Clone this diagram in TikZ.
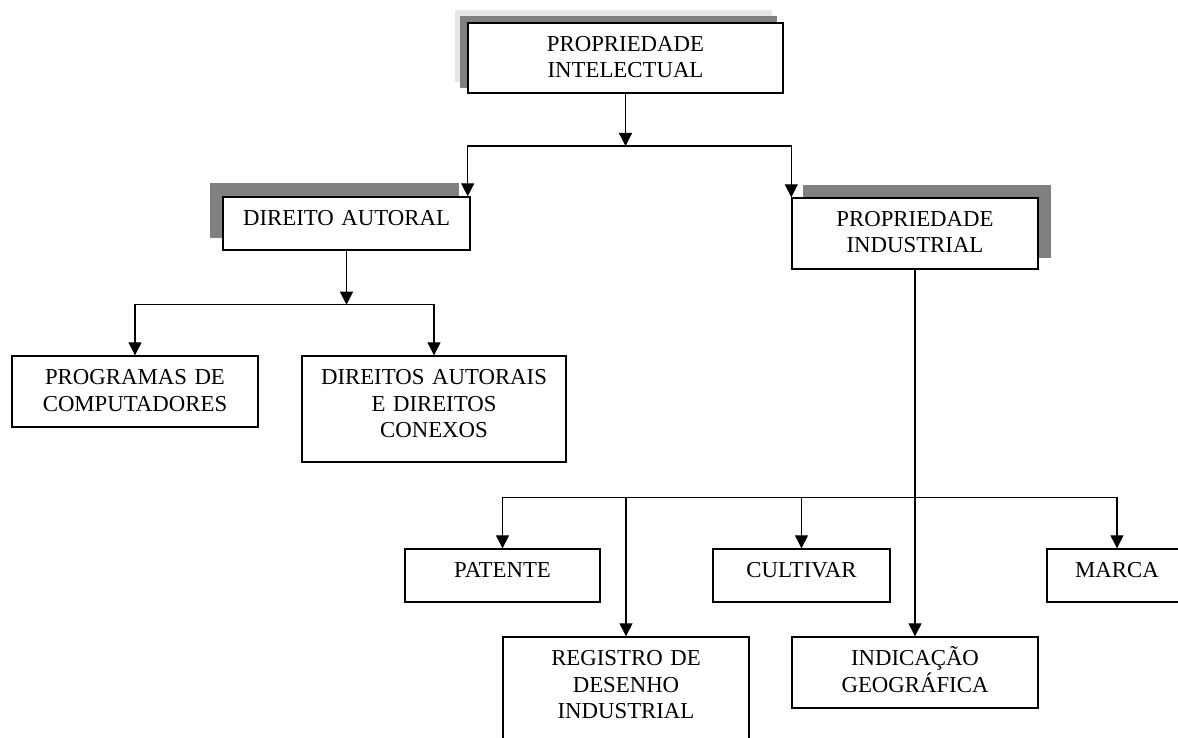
\documentclass[tikz,border=0pt]{standalone}
\usepackage{fontspec}
\setmainfont{Liberation Serif}
\usetikzlibrary{arrows.meta,backgrounds}

\begin{document}
\begin{tikzpicture}[
    x=0.5pt, y=-0.5pt,
    font=\fontsize{11.4pt}{13.25pt}\selectfont,
    box/.style 2 args={
        draw,
        fill=white,
        line width=0.7pt,
        inner sep=0pt,
        align=center,
        text height=14.25pt,
        text width=#1,
        text depth=#2
    },
    shade/.style={fill=black!50},
    pale/.style={fill=black!10},
    arrow/.style={-{Triangle[width=6.5pt,length=6.5pt]}, line width=0.65pt}
]
\useasboundingbox (0,0) rectangle (1178,738);
\clip (0,0) rectangle (1178,738);

% ============================================================
% PROPRIEDADE INTELECTUAL
% ============================================================
\node[box={157.5pt}{20.75pt}] (intel) at (625.5,58) {PROPRIEDADE\\INTELECTUAL};

\node[box={123.5pt}{12.25pt}] (autoral) at (346.5,223.5) {DIREITO AUTORAL};
\node[box={123pt}{21.25pt}] (industrial) at (915,233.5) {PROPRIEDADE\\INDUSTRIAL};

\coordinate (j1) at (625.5,146);
\draw[arrow] (intel) -- (j1);
\draw[arrow] (j1) -| ([xshift=-1.5pt]autoral.north east);
\draw[arrow] (j1) -| (industrial.north west);

% sombras
\begin{scope}[on background layer]
  \fill[pale] ([shift={(-12,-12)}]intel.north west) rectangle ([shift={(-12,-12)}]intel.south east);
  \fill[shade] ([shift={(-7,-6)}]intel.north west) rectangle ([shift={(-7,-6)}]intel.south east);
  \fill[shade] ([shift={(-12,-13)}]autoral.north west) rectangle ([shift={(-12,-13)}]autoral.south east);
  \fill[shade] ([shift={(12,-12)}]industrial.north west) rectangle ([shift={(12,-12)}]industrial.south east);
\end{scope}

% ============================================================
% DIREITO AUTORAL
% ============================================================
\node[box={123pt}{21.25pt}] (programas) at (135,391.5) {PROGRAMAS DE\\COMPUTADORES};
\node[box={132pt}{38.75pt}] (conexos) at (434,409) {DIREITOS AUTORAIS\\E DIREITOS\\CONEXOS};

\path (autoral.south) ++(0,54) coordinate (j2);
\draw[arrow] (autoral) -- (j2);
\draw[arrow] (j2) -| (programas.north);
\draw[arrow] (j2) -| (conexos.north);

% ============================================================
% PROPRIEDADE INDUSTRIAL
% ============================================================
\node[box={97.5pt}{12.25pt}] (patente) at (502.5,575.5) {PATENTE};
\node[box={88.5pt}{12.25pt}] (cultivar) at (801.5,575.5) {CULTIVAR};
\node[box={70pt}{12.25pt}] (marca) at (1117,575.5) {MARCA};
\node[box={123pt}{38.75pt}] (registro) at (626,690) {REGISTRO DE\\DESENHO\\INDUSTRIAL};
\node[box={123pt}{21.25pt}] (indic) at (915,672.5) {INDICAÇÃO\\GEOGRÁFICA};

\draw[arrow] (industrial) -- (indic);
\path (industrial.south) ++(0,228) coordinate (j3);
\draw[arrow] (j3) -| (patente.north);
\draw[arrow] (j3) -| (marca.north);
\draw[arrow] (registro.north |- j3) -- (registro.north);
\draw[arrow] (cultivar.north |- j3) -- (cultivar.north);

\end{tikzpicture}
\end{document}
